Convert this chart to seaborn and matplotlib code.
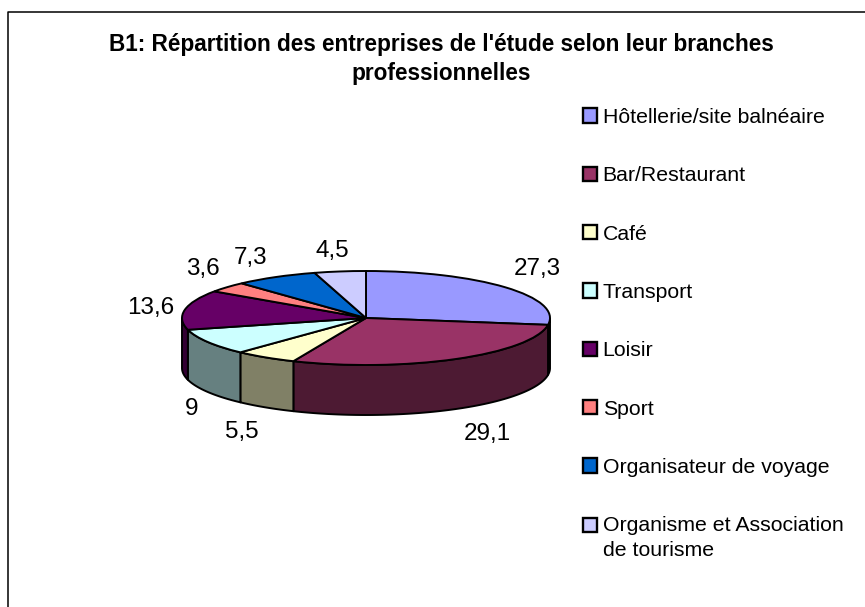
import numpy as np
import pandas as pd
import seaborn as sns
import matplotlib
matplotlib.use("Agg")
import matplotlib.pyplot as plt
from matplotlib.lines import Line2D
from matplotlib.patches import Patch
from matplotlib.colors import to_rgb

categories = ["Hôtellerie/site balnéaire", "Bar/Restaurant", "Café", "Transport", "Loisir",
              "Sport", "Organisateur de voyage", "Organisme et Association\nde tourisme"]
values = [27.3, 29.1, 5.5, 9, 13.6, 3.6, 7.3, 4.5]
value_labels = ["27,3", "29,1", "5,5", "9", "13,6", "3,6", "7,3", "4,5"]
colors = ["#9999FF", "#993366", "#FFFFCC", "#CCFFFF", "#660066", "#FF8080", "#0066CC", "#CCCCFF"]
title = "B1: Répartition des entreprises de l'étude selon leur branches\nprofessionnelles"

# layout (pixels / style only)
label_offsets = [(32, 18), (32, -25), (-24, -25), (-16, -17), (-34, 2), (-24.5, 18), (-25, 19), (-8, 20.5)]

sns.set_theme(style="white")
plt.rcParams["font.family"] = ["Liberation Sans", "DejaVu Sans"]

W, H = 865, 607
df = pd.DataFrame({"cat": categories, "val": values, "label": value_labels, "color": colors})

fig = plt.figure(figsize=(W / 100, H / 100), dpi=100, facecolor="white")

# frame: only the left and top edges are in the picture
fig.add_artist(Line2D([8 / W, 8 / W, 1], [0, 1 - 11.5 / H, 1 - 11.5 / H], color="black", lw=1.1))

cx, cy, rx, ry, depth = 366, 318, 184, 47, 50
ax = fig.add_axes([(cx - rx) / W, 1 - (cy + ry) / H, 2 * rx / W, 2 * ry / H])
ax.set_xlim(-1, 1)
ax.set_ylim(-1, 1)
ax.axis("off")
d = depth / ry

# side wall, from the same angles as the top
fractions = df["val"].to_numpy() / df["val"].sum()
edges = 90 - 360 * np.concatenate([[0], np.cumsum(fractions)])
for i in range(len(df)):
    a0, a1 = edges[i], edges[i + 1]
    t = np.linspace(a0, a1, 200)
    t = t[np.sin(np.radians(t)) <= 0.0]
    if t.size < 2:
        continue
    xs = np.cos(np.radians(t))
    ys = np.sin(np.radians(t))
    px = np.concatenate([xs, xs[::-1]])
    py = np.concatenate([ys, ys[::-1] - d])
    shade = tuple(0.5 * c for c in to_rgb(df["color"][i]))
    ax.fill(px, py, facecolor=shade, edgecolor="black", lw=1.4, clip_on=False, joinstyle="round", zorder=1)

wedges, _ = ax.pie(df["val"], colors=df["color"], startangle=90, counterclock=False, radius=1,
                   wedgeprops=dict(edgecolor="black", linewidth=1.4, clip_on=False, zorder=2),
                   normalize=True, frame=True)
ax.set_aspect("auto")
ax.set_xlim(-1, 1)
ax.set_ylim(-1, 1)
ax.axis("off")

mids = np.radians((edges[:-1] + edges[1:]) / 2)
for i, m in enumerate(mids):
    x, y = np.cos(m), np.sin(m)
    if y < 0:
        y -= d
    ax.annotate(df["label"][i], xy=(x, y), xytext=label_offsets[i], textcoords="offset pixels",
                ha="center", va="center", fontsize=17.5, color="black", annotation_clip=False, zorder=3)

fig.text(441.5 / W, 1 - 59 / H, title, ha="center", va="center", fontsize=16.3, fontweight="bold",
         color="black", linespacing=1.36)

handles = [Patch(facecolor=c, edgecolor="black", linewidth=1.7) for c in colors]
leg = fig.legend(handles, categories, loc="upper left", bbox_to_anchor=(582.5 / W, 1 - 108 / H),
                 frameon=False, fontsize=15.3, labelspacing=1.85, handlelength=0.68, handleheight=0.68,
                 handletextpad=0.27, borderpad=0, borderaxespad=0, labelcolor="black")
# two-line entry: its key sits beside the first line
leg.get_texts()[-1].set_linespacing(1.42)
last = leg.legend_handles[-1]
last.set_y(last.get_y() + 9.5)

fig.savefig("out.png", dpi=100, facecolor="white")
